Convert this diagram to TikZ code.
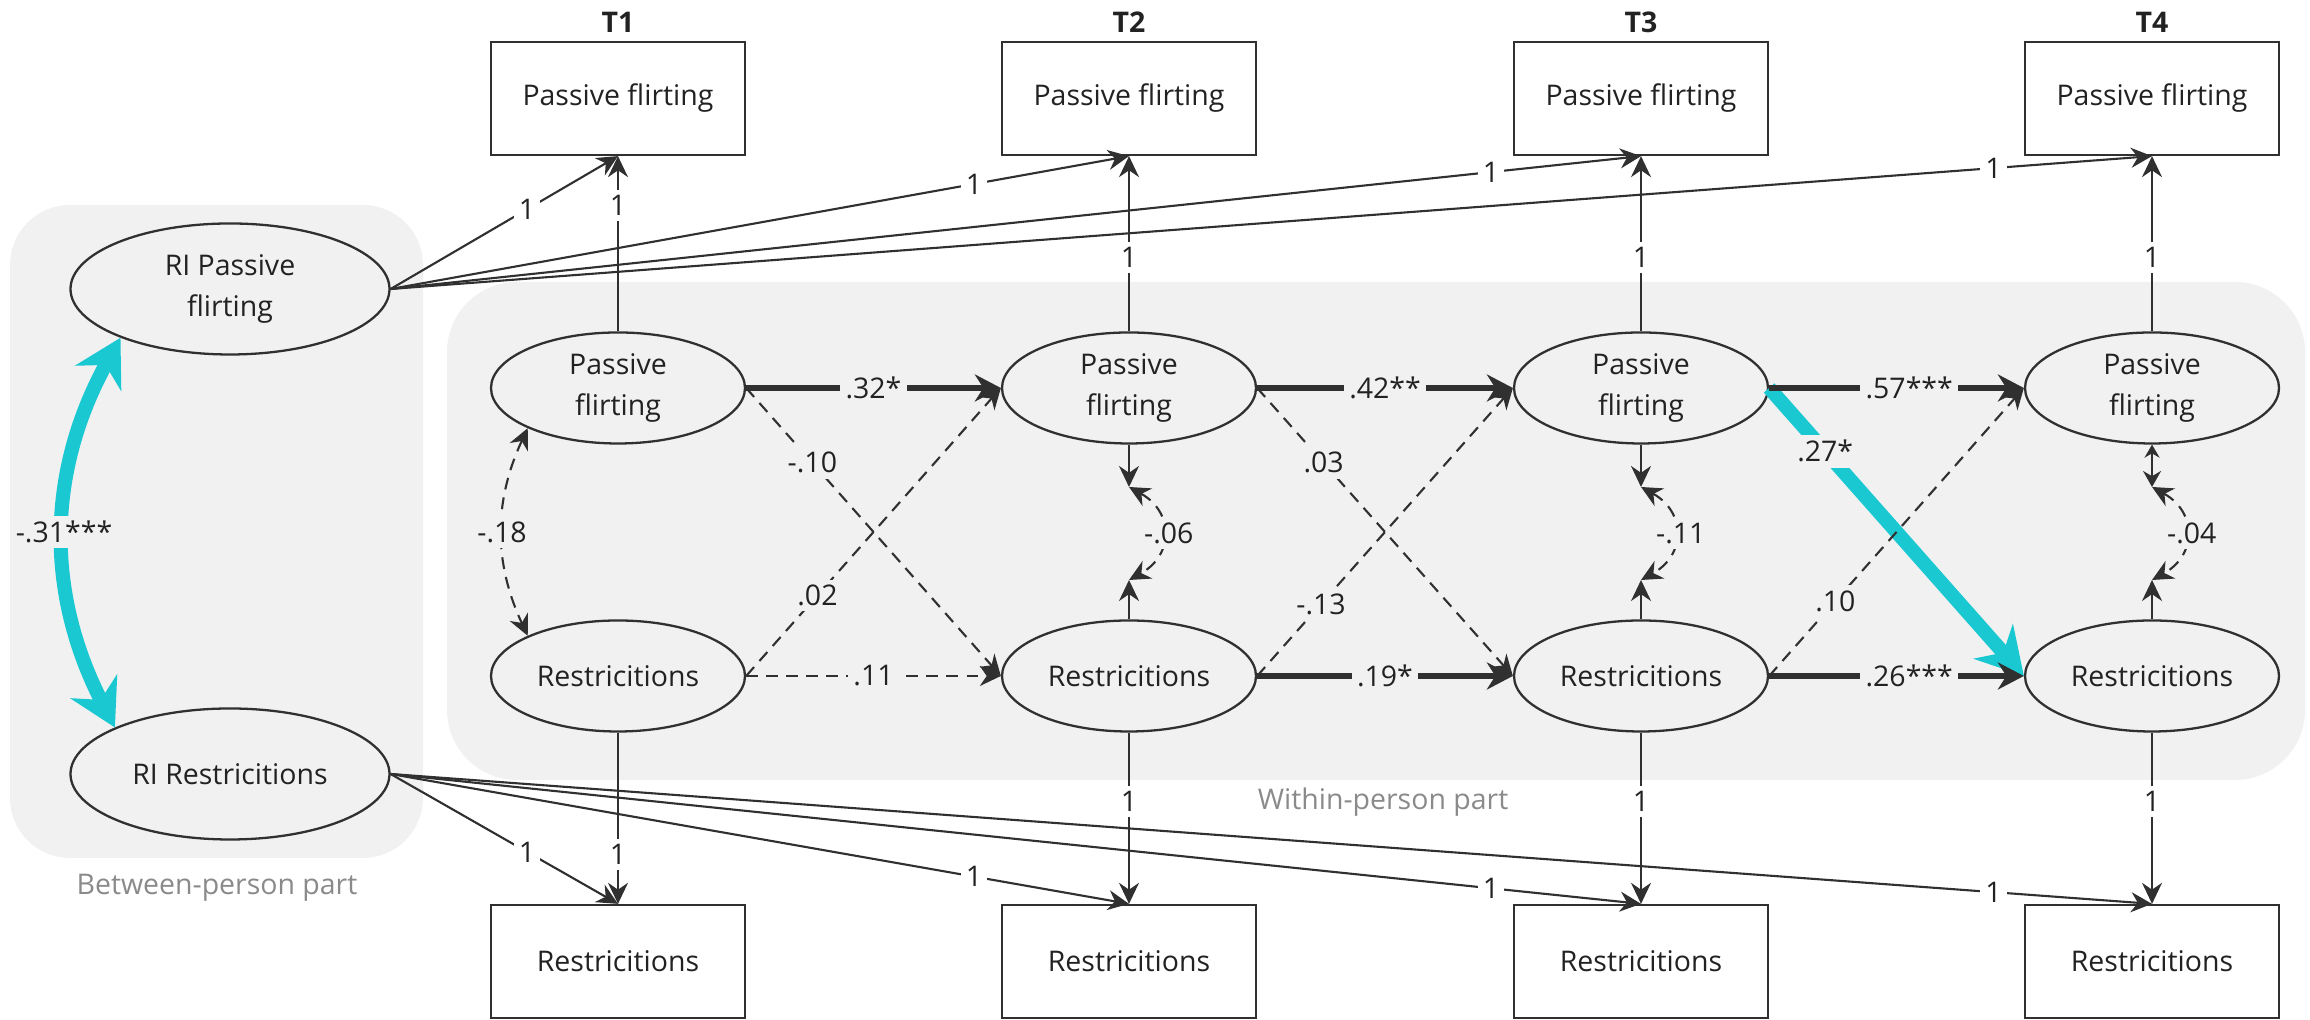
\documentclass[tikz,border=0pt]{standalone}
\usepackage{fontspec}
\setmainfont{Open Sans}
\usetikzlibrary{arrows.meta,shapes.geometric}
\definecolor{panelgray}{RGB}{241,241,241}
\definecolor{linecol}{RGB}{48,48,48}
\definecolor{textcol}{RGB}{34,34,34}
\definecolor{sigcyan}{RGB}{26,200,210}
\definecolor{partgray}{RGB}{138,138,138}
\tikzset{
  latent/.style={ellipse, draw=linecol, line width=0.65pt, fill=panelgray, minimum width=2.54cm, minimum height=1.11cm, inner sep=0pt, align=center},
  rilatent/.style={latent, minimum width=3.19cm, minimum height=1.31cm},
  obsbox/.style={rectangle, draw=linecol, line width=0.65pt, fill=white, minimum width=2.54cm, minimum height=1.13cm},
  loadarr/.style={draw=linecol, line width=0.6pt, -{Stealth[length=2.1mm,width=2mm]}},
  sigarr/.style={draw=linecol, line width=1.5pt, -{Stealth[length=2.6mm,width=2.7mm]}},
  nsarr/.style={draw=linecol, line width=0.6pt, dash pattern=on 3.4pt off 2.3pt, -{Stealth[length=2.1mm,width=2mm]}},
  covarr/.style={nsarr, {Stealth[length=2.1mm,width=2mm]}-{Stealth[length=2.1mm,width=2mm]}},
  cyanarr/.style={draw=sigcyan, line width=4pt, -{Stealth[length=4.6mm,width=5.2mm]}},
  cyandbl/.style={cyanarr, {Stealth[length=4.6mm,width=5.2mm]}-{Stealth[length=4.6mm,width=5.2mm]}},
  lbl/.style={fill=panelgray, inner sep=1.5pt},
  lblw/.style={lbl, fill=white}
}
\begin{document}
\begin{tikzpicture}[font=\fontsize{8.1}{11.4}\selectfont, text=textcol]
  \useasboundingbox (0,0) rectangle (23.1,10.2);
  \fill[panelgray, rounded corners=0.6cm] (0.10,1.62) rectangle (4.23,8.15);
  \fill[panelgray, rounded corners=0.7cm] (4.47,2.40) rectangle (23.05,7.38);
  \node[text=partgray] (betweenlbl) at (2.17,1.32) {Between-person part};
  \node[text=partgray] (withinlbl) at (13.83,2.18) {Within-person part};

  \node[font=\fontsize{8.1}{10}\selectfont\bfseries] (t1) at (6.18,9.98) {T1};
  \node[font=\fontsize{8.1}{10}\selectfont\bfseries] (t2) at (11.29,9.98) {T2};
  \node[font=\fontsize{8.1}{10}\selectfont\bfseries] (t3) at (16.41,9.98) {T3};
  \node[font=\fontsize{8.1}{10}\selectfont\bfseries] (t4) at (21.52,9.98) {T4};

  \node[obsbox] (pf1obs) at (6.18,9.215) {Passive flirting};
  \node[obsbox] (pf2obs) at (11.29,9.215) {Passive flirting};
  \node[obsbox] (pf3obs) at (16.41,9.215) {Passive flirting};
  \node[obsbox] (pf4obs) at (21.52,9.215) {Passive flirting};
  \node[obsbox] (r1obs) at (6.18,0.585) {Restricitions};
  \node[obsbox] (r2obs) at (11.29,0.585) {Restricitions};
  \node[obsbox] (r3obs) at (16.41,0.585) {Restricitions};
  \node[obsbox] (r4obs) at (21.52,0.585) {Restricitions};

  \node[latent] (pf1) at (6.18,6.32) {Passive\\flirting};
  \node[latent] (pf2) at (11.29,6.32) {Passive\\flirting};
  \node[latent] (pf3) at (16.41,6.32) {Passive\\flirting};
  \node[latent] (pf4) at (21.52,6.32) {Passive\\flirting};
  \node[latent] (r1) at (6.18,3.44) {Restricitions};
  \node[latent] (r2) at (11.29,3.44) {Restricitions};
  \node[latent] (r3) at (16.41,3.44) {Restricitions};
  \node[latent] (r4) at (21.52,3.44) {Restricitions};

  \node[rilatent] (ripf) at (2.30,7.31) {RI Passive\\flirting};
  \node[rilatent] (rir) at (2.30,2.46) {RI Restricitions};

  \draw[loadarr] (ripf.east) -- node[lblw, pos=0.6] {1} (pf1obs.south);
  \draw[loadarr] (ripf.east) -- node[lblw, pos=0.79] {1} (pf2obs.south);
  \draw[loadarr] (ripf.east) -- node[lblw, pos=0.88] {1} (pf3obs.south);
  \draw[loadarr] (ripf.east) -- node[lblw, pos=0.91] {1} (pf4obs.south);
  \draw[loadarr] (rir.east) -- node[lblw, pos=0.6] {1} (r1obs.north);
  \draw[loadarr] (rir.east) -- node[lblw, pos=0.79] {1} (r2obs.north);
  \draw[loadarr] (rir.east) -- node[lblw, pos=0.88] {1} (r3obs.north);
  \draw[loadarr] (rir.east) -- node[lblw, pos=0.91] {1} (r4obs.north);

  \draw[loadarr] (pf1.north) -- node[lblw, pos=0.72] {1} (pf1obs.south);
  \draw[loadarr] (pf2.north) -- node[lblw, pos=0.42] {1} (pf2obs.south);
  \draw[loadarr] (pf3.north) -- node[lblw, pos=0.42] {1} (pf3obs.south);
  \draw[loadarr] (pf4.north) -- node[lblw, pos=0.42] {1} (pf4obs.south);
  \draw[loadarr] (r1.south) -- node[lblw, pos=0.71] {1} (r1obs.north);
  \draw[loadarr] (r2.south) -- node[lblw, pos=0.4] {1} (r2obs.north);
  \draw[loadarr] (r3.south) -- node[lblw, pos=0.4] {1} (r3obs.north);
  \draw[loadarr] (r4.south) -- node[lblw, pos=0.4] {1} (r4obs.north);

  \draw[cyandbl] (ripf.204) to[bend right=28] node[lbl] {-.31***} (rir.158);
  \draw[cyanarr] (pf3.east) -- node[lbl, pos=0.22] {.27*} (r4.west);

  \draw[sigarr] (pf1.east) -- node[lbl] {.32*} (pf2.west);
  \draw[sigarr] (pf2.east) -- node[lbl] {.42**} (pf3.west);
  \draw[sigarr] (pf3.east) -- node[lbl, pos=0.55] {.57***} (pf4.west);
  \draw[nsarr] (r1.east) -- node[lbl] {.11} (r2.west);
  \draw[sigarr] (r2.east) -- node[lbl] {.19*} (r3.west);
  \draw[sigarr] (r3.east) -- node[lbl, pos=0.55] {.26***} (r4.west);

  \draw[nsarr] (pf1.east) -- node[lbl, pos=0.26] {-.10} (r2.west);
  \draw[nsarr] (r1.east) -- node[lbl, pos=0.28] {.02} (pf2.west);
  \draw[nsarr] (pf2.east) -- node[lbl, pos=0.26] {.03} (r3.west);
  \draw[nsarr] (r2.east) -- node[lbl, pos=0.25] {-.13} (pf3.west);
  \draw[nsarr] (r3.east) -- node[lbl, pos=0.26] {.10} (pf4.west);

  \draw[covarr] (pf1.204) to[bend right=25] node[lbl] {-.18} (r1.156);

  \coordinate (c2a) at (11.29,5.33); \coordinate (c2b) at (11.29,4.40);
  \coordinate (c3a) at (16.41,5.33); \coordinate (c3b) at (16.41,4.40);
  \coordinate (c4a) at (21.52,5.33); \coordinate (c4b) at (21.52,4.40);
  \draw[loadarr] (pf2.south) -- (c2a);
  \draw[loadarr] (r2.north) -- (c2b);
  \draw[covarr] (c2a) .. controls +(0.45,-0.25) and +(0.45,0.25) .. node[lbl, xshift=0.06cm] {-.06} (c2b);
  \draw[loadarr] (pf3.south) -- (c3a);
  \draw[loadarr] (r3.north) -- (c3b);
  \draw[covarr] (c3a) .. controls +(0.45,-0.25) and +(0.45,0.25) .. node[lbl, xshift=0.06cm] {-.11} (c3b);
  \draw[loadarr, {Stealth[length=1.3mm,width=1.5mm]}-{Stealth[length=1.6mm,width=1.8mm]}] (pf4.south) -- (c4a);
  \draw[loadarr] (r4.north) -- (c4b);
  \draw[covarr] (c4a) .. controls +(0.45,-0.25) and +(0.45,0.25) .. node[lbl, xshift=0.06cm] {-.04} (c4b);
\end{tikzpicture}
\end{document}
